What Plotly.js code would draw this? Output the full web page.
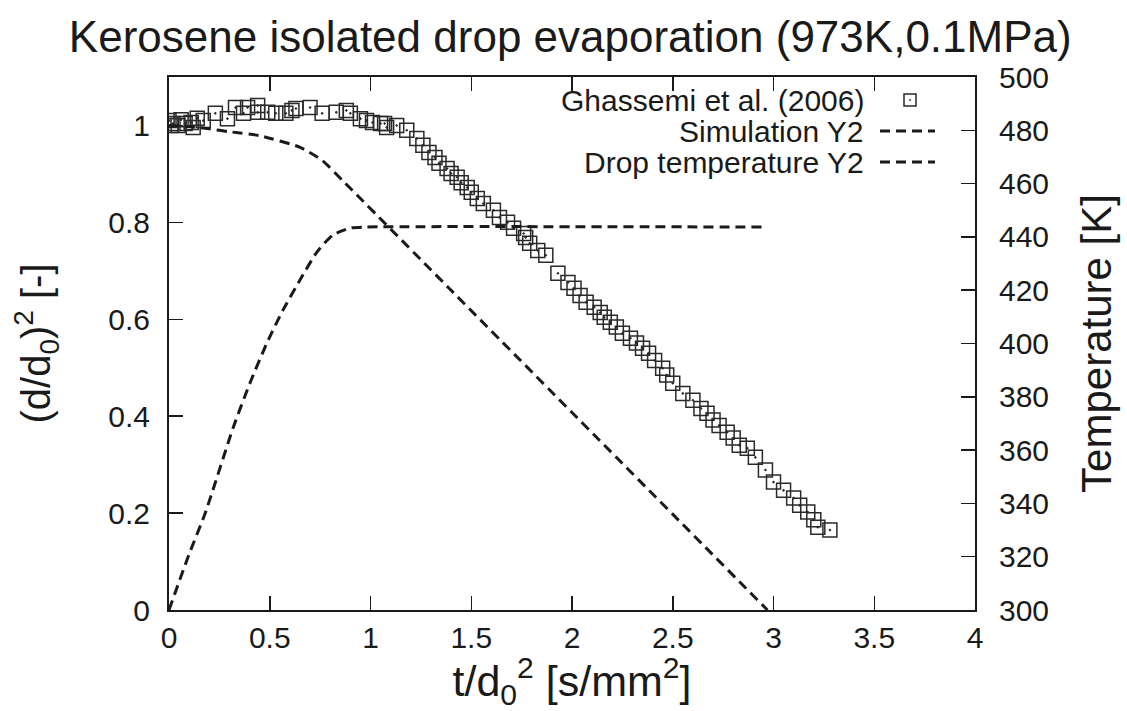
<!DOCTYPE html>
<html>
<head>
<meta charset="utf-8">
<script src="https://cdn.plot.ly/plotly-3.0.1.min.js"></script>
<style>html,body{margin:0;padding:0;background:#fff;}#chart{width:1127px;height:711px;}</style>
</head>
<body>
<div id="chart"></div>
<script>
// Experimental data: Ghassemi et al. (2006)
const expX = [0.00,0.01,0.02,0.045,0.06,0.08,0.11,0.12,0.14,0.17,0.23,0.29,0.33,0.37,0.39,0.44,0.44,0.49,0.53,0.58,0.61,0.63,0.70,0.76,0.83,0.88,0.90,0.95,0.98,1.01,1.05,1.07,1.08,1.13,1.18,1.23,1.26,1.29,1.32,1.34,1.38,1.40,1.43,1.45,1.48,1.50,1.53,1.56,1.61,1.64,1.68,1.71,1.76,1.77,1.79,1.83,1.87,1.93,1.98,2.01,2.04,2.07,2.11,2.14,2.16,2.19,2.22,2.25,2.29,2.32,2.35,2.38,2.41,2.45,2.47,2.50,2.55,2.60,2.64,2.67,2.70,2.73,2.77,2.80,2.83,2.87,2.91,2.96,3.00,3.05,3.10,3.13,3.17,3.20,3.22,3.28];
const expY = [1.010,1.000,1.004,1.000,1.012,1.004,1.006,0.996,1.015,1.010,1.025,1.014,1.037,1.025,1.037,1.027,1.041,1.027,1.025,1.025,1.031,1.035,1.037,1.025,1.027,1.031,1.025,1.014,1.010,1.006,1.004,1.004,0.996,1.000,0.990,0.973,0.959,0.944,0.934,0.922,0.911,0.901,0.893,0.882,0.872,0.862,0.849,0.839,0.825,0.810,0.800,0.788,0.777,0.769,0.757,0.742,0.732,0.695,0.676,0.664,0.649,0.635,0.625,0.614,0.604,0.594,0.584,0.571,0.561,0.551,0.540,0.530,0.515,0.499,0.485,0.468,0.447,0.433,0.416,0.406,0.392,0.381,0.367,0.355,0.340,0.334,0.315,0.289,0.264,0.247,0.231,0.216,0.202,0.186,0.171,0.165];

// Simulation Y2: (d/d0)^2
const simX = [0.00,0.10,0.20,0.30,0.45,0.65,0.76,0.86,1.39,2.97];
const simY = [1.000,0.998,0.993,0.987,0.979,0.955,0.928,0.887,0.664,0.000];

// Drop temperature Y2 [K]
const tempX = [0.00,0.10,0.18,0.318,0.402,0.486,0.566,0.650,0.734,0.814,0.898,0.98,2.97];
const tempT = [300,321,336.4,368.3,385.2,400.2,412.6,423.8,434.3,440.7,443.3,443.7,443.7];

// Axis ticks
const xTicks = [0,0.5,1,1.5,2,2.5,3,3.5,4];
const yTicks = [0,0.2,0.4,0.6,0.8,1];
const y2Ticks = [300,320,340,360,380,400,420,440,460,480,500];

const legendNames = ["Ghassemi et al. (2006)","Simulation Y2","Drop temperature Y2"];

const FONT = "Liberation Sans, Arial, Helvetica, sans-serif";
const INK = "#1a1a1a";

const traces = [
  {x: expX, y: expY, type: 'scatter', mode: 'markers', name: legendNames[0],
   marker: {symbol: 'square-open-dot', size: 14, color: '#2a2a2a', line: {width: 1.5, color: '#2a2a2a'}},
   showlegend: false, xaxis: 'x', yaxis: 'y'},
  {x: simX, y: simY, type: 'scatter', mode: 'lines', name: legendNames[1],
   line: {color: INK, width: 3, dash: '10px,6px', shape: 'spline', smoothing: 0.5},
   showlegend: false, xaxis: 'x', yaxis: 'y'},
  {x: tempX, y: tempT, type: 'scatter', mode: 'lines', name: legendNames[2],
   line: {color: INK, width: 3, dash: '10px,6px', shape: 'spline', smoothing: 0.6},
   showlegend: false, xaxis: 'x', yaxis: 'y2'}
];

const axCommon = {
  showgrid: false, zeroline: false, showline: true, linecolor: INK, linewidth: 2,
  ticks: 'inside', ticklen: 14, tickwidth: 1.5, tickcolor: INK,
  tickfont: {family: FONT, size: 30, color: INK}
};

// gnuplot-style legend: right-aligned text, sample to the right
const legY = [100, 131, 162];
const annotations = legendNames.map((t, i) => ({
  xref: 'paper', yref: 'paper', x: (866-169)/806, y: 1 - (legY[i]-77)/533,
  xanchor: 'right', yanchor: 'middle', showarrow: false, text: t,
  font: {family: FONT, size: 30, color: INK}
}));

const shapes = [
  {type: 'rect', xref: 'paper', yref: 'paper', x0: (904-169)/806, x1: (916-169)/806,
   y0: 1-(106-77)/533, y1: 1-(94-77)/533, line: {color: '#2a2a2a', width: 1.5}},
  {type: 'circle', xref: 'paper', yref: 'paper', x0: (909.5-169)/806, x1: (910.5-169)/806,
   y0: 1-(100.5-77)/533, y1: 1-(99.5-77)/533, line: {color: '#2a2a2a', width: 1}, fillcolor: '#2a2a2a'},
  {type: 'line', xref: 'paper', yref: 'paper', x0: (880-169)/806, x1: (935-169)/806,
   y0: 1-(legY[1]-77)/533, y1: 1-(legY[1]-77)/533, line: {color: INK, width: 3, dash: '10px,6px'}},
  {type: 'line', xref: 'paper', yref: 'paper', x0: (880-169)/806, x1: (935-169)/806,
   y0: 1-(legY[2]-77)/533, y1: 1-(legY[2]-77)/533, line: {color: INK, width: 3, dash: '10px,6px'}}
];

const layout = {
  width: 1127, height: 711,
  margin: {l: 169, r: 152, t: 77, b: 101},
  paper_bgcolor: '#fff', plot_bgcolor: '#fff',
  font: {family: FONT, color: INK},
  showlegend: false,
  title: {text: 'Kerosene isolated drop evaporation (973K,0.1MPa)',
          font: {family: FONT, size: 44, color: INK},
          xref: 'container', x: 0.506, xanchor: 'center',
          yref: 'container', y: 1 - 37/711, yanchor: 'middle'},
  xaxis: Object.assign({}, axCommon, {
    range: [0, 4], tickvals: xTicks, mirror: 'ticks',
    title: {text: 't/d<sub>0</sub><sup>2</sup> [s/mm<sup>2</sup>]', font: {family: FONT, size: 43, color: INK}, standoff: 2}
  }),
  yaxis: Object.assign({}, axCommon, {
    range: [0, 1.1], tickvals: yTicks, ticklabelstandoff: 11,
    title: {text: '(d/d<sub>0</sub>)<sup>2</sup> [-]', font: {family: FONT, size: 40, color: INK}, standoff: 45}
  }),
  yaxis2: Object.assign({}, axCommon, {
    range: [300, 500], tickvals: y2Ticks, overlaying: 'y', side: 'right', ticklabelstandoff: 16,
    title: {text: 'Temperature [K]', font: {family: FONT, size: 42, color: INK}, standoff: 34}
  }),
  annotations: annotations,
  shapes: shapes
};

Plotly.newPlot('chart', traces, layout, {staticPlot: true, displayModeBar: false});
</script>
</body>
</html>
